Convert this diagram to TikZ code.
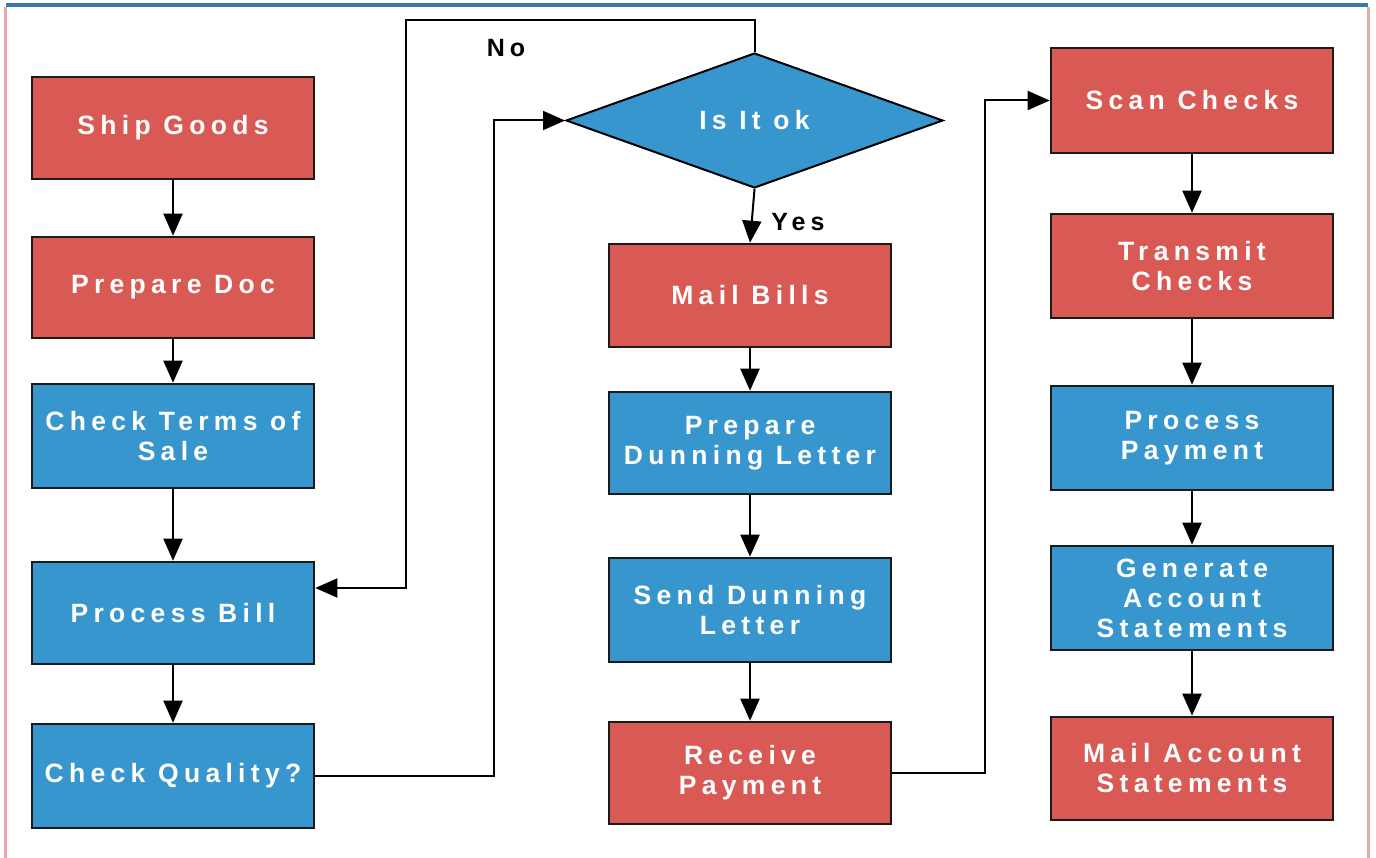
\documentclass[tikz,border=0pt]{standalone}
\usepackage{fontspec}
\setmainfont{Liberation Sans}
\newfontfamily\boxfont{Liberation Sans}[LetterSpace=20]
\usetikzlibrary{arrows.meta,shapes.geometric}
\definecolor{boxred}{HTML}{D95A54}
\definecolor{boxblue}{HTML}{3796CD}
\definecolor{topblue}{HTML}{3A7AAB}
\definecolor{sidepink}{HTML}{E8AAAA}
\definecolor{edgedark}{HTML}{1A1A1A}
\begin{document}
\begin{tikzpicture}[x=1pt,y=-1pt,
  procbox/.style={draw=edgedark, line width=2.6pt, minimum width=282pt, inner sep=0pt,
    text=white, align=center, font=\boxfont\bfseries\fontsize{26.5}{30}\selectfont},
  redbox/.style={procbox, fill=boxred},
  bluebox/.style={procbox, fill=boxblue},
  conn/.style={draw=black, line width=2pt},
  arr/.style={conn, -{Triangle[length=22pt,width=19pt]}},
  lbl/.style={text=black, font=\boxfont\bfseries\fontsize{25}{28}\selectfont, inner sep=0pt}
]
\useasboundingbox (0,0) rectangle (1376,858);
\fill[white] (0,0) rectangle (1376,858);
% frame
\draw[topblue, line width=4pt] (6,5) -- (1368,5);
\draw[sidepink, line width=3pt] (5.5,7) -- (5.5,858);
\draw[sidepink, line width=3pt] (1368.5,7) -- (1368.5,858);

% column 1
\node[redbox, minimum height=102pt] (ship) at (173,128) {Ship Goods};
\node[redbox, minimum height=101pt] (prep) at (173,287.5) {Prepare Doc};
\node[bluebox, minimum height=104pt] (terms) at (173,436) {Check Terms of\\Sale};
\node[bluebox, minimum height=102pt] (pbill) at (173,613) {Process Bill};
\node[bluebox, minimum height=104pt] (qual) at (173,776) {Check Quality?};

% diamond
\node[diamond, draw=black, line width=2pt, fill=boxblue, minimum width=377pt, minimum height=135pt,
  inner sep=0pt, text=white, font=\boxfont\bfseries\fontsize{26.5}{30}\selectfont] (dia) at (754.5,120.5) {Is It ok};

% column 2
\node[redbox, minimum height=103pt] (mail) at (750,295.5) {Mail Bills};
\node[bluebox, minimum height=102pt] (pdun) at (750,443) {Prepare\\Dunning Letter};
\node[bluebox, minimum height=104pt] (sdun) at (750,610) {Send Dunning\\Letter};
\node[redbox, minimum height=102pt] (recv) at (750,773) {Receive\\Payment};

% column 3
\node[redbox, minimum height=105pt] (scan) at (1192,100.5) {Scan Checks};
\node[redbox, minimum height=104pt] (trans) at (1192,266) {Transmit\\Checks};
\node[bluebox, minimum height=104pt] (ppay) at (1192,438) {Process\\Payment};
\node[bluebox, minimum height=104pt] (gen) at (1192,598) {Generate\\Account\\Statements};
\node[redbox, minimum height=103pt] (mailacc) at (1192,768.5) {Mail Account\\Statements};

% vertical arrows
\draw[arr] (ship) -- (prep);
\draw[arr] (prep) -- (terms);
\draw[arr] (terms) -- (pbill);
\draw[arr] (pbill) -- (qual);
\draw[arr] (dia.south) -- (mail.north);
\draw[arr] (mail) -- (pdun);
\draw[arr] (pdun) -- (sdun);
\draw[arr] (sdun) -- (recv);
\draw[arr] (scan) -- (trans);
\draw[arr] (trans) -- (ppay);
\draw[arr] (ppay) -- (gen);
\draw[arr] (gen) -- (mailacc);

% loop connectors
\coordinate (no1) at (754.5,20);
\coordinate (no2) at (405.5,20);
\coordinate (no3) at (405.5,588);
\draw[arr] (dia.north) -- (no1) -- (no2) -- (no3) -- (no3 -| pbill.east);

\coordinate (qc) at (494,120.5);
\draw[arr] (qual.east) -| (qc) -- (dia.west);

\coordinate (rc) at (985,100.5);
\draw[arr] (recv.east) -| (rc) -- (scan.west);

% labels
\node[lbl] (nolbl) at (506,48) {No};
\node[lbl] (yeslbl) at (798,222) {Yes};
\end{tikzpicture}
\end{document}
